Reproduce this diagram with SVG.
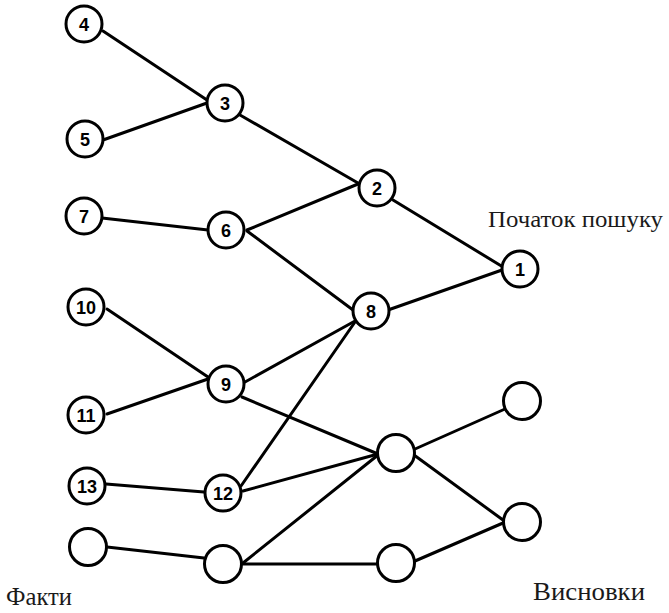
<svg xmlns="http://www.w3.org/2000/svg" width="669" height="613" viewBox="0 0 669 613">
<style>
.e line{stroke:#000;stroke-width:3;stroke-linecap:round}
.n circle{fill:#fff;stroke:#000;stroke-width:3}
.n text{font-family:"Liberation Sans",Arial,sans-serif;font-weight:bold;font-size:18px;text-anchor:middle;fill:#000}
.lbl{font-family:"Liberation Serif","Times New Roman",serif;fill:#1a1a1a}
</style>
<rect width="669" height="613" fill="#fff"/>
<g id="connectors" class="e">
<line x1="103" y1="31" x2="207" y2="100"/>
<line x1="103" y1="140" x2="207" y2="103"/>
<line x1="240" y1="115" x2="358" y2="183"/>
<line x1="247" y1="230" x2="358" y2="184"/>
<line x1="102" y1="218" x2="208" y2="230"/>
<line x1="247" y1="231" x2="353" y2="310"/>
<line x1="393" y1="200" x2="503" y2="267"/>
<line x1="388" y1="310" x2="502" y2="270"/>
<line x1="107" y1="309" x2="208" y2="377"/>
<line x1="107" y1="414" x2="208" y2="379"/>
<line x1="245" y1="382" x2="355" y2="321"/>
<line x1="242" y1="397" x2="378" y2="454"/>
<line x1="241" y1="486" x2="355" y2="322"/>
<line x1="243" y1="491" x2="378" y2="454"/>
<line x1="106" y1="484" x2="204" y2="492"/>
<line x1="107" y1="547" x2="204" y2="558"/>
<line x1="243" y1="563" x2="378" y2="455"/>
<line x1="243" y1="564" x2="377" y2="564"/>
<line x1="415" y1="449" x2="505" y2="409"/>
<line x1="414" y1="455" x2="503" y2="520"/>
<line x1="415" y1="561" x2="503" y2="523"/>
</g>
<g id="n4" class="n"><circle cx="84" cy="24" r="18"/><text x="84" y="30.5">4</text></g>
<g id="n5" class="n"><circle cx="85" cy="139" r="18"/><text x="85" y="145.5">5</text></g>
<g id="n3" class="n"><circle cx="225" cy="103" r="18"/><text x="225" y="109.5">3</text></g>
<g id="n7" class="n"><circle cx="84" cy="216" r="18"/><text x="84" y="222.5">7</text></g>
<g id="n6" class="n"><circle cx="226" cy="230" r="18"/><text x="226" y="236.5">6</text></g>
<g id="n2" class="n"><circle cx="377" cy="188" r="18"/><text x="377" y="194.5">2</text></g>
<g id="n1" class="n"><circle cx="520" cy="269" r="18"/><text x="520" y="275.5">1</text></g>
<g id="n10" class="n"><circle cx="86" cy="307" r="18"/><text x="86" y="313.5">10</text></g>
<g id="n8" class="n"><circle cx="371" cy="311" r="18"/><text x="371" y="317.5">8</text></g>
<g id="n9" class="n"><circle cx="226" cy="384" r="18"/><text x="226" y="390.5">9</text></g>
<g id="n11" class="n"><circle cx="86" cy="415" r="18"/><text x="86" y="421.5">11</text></g>
<g id="n13" class="n"><circle cx="87" cy="486" r="18"/><text x="87" y="492.5">13</text></g>
<g id="n12" class="n"><circle cx="223" cy="493" r="18"/><text x="223" y="499.5">12</text></g>
<g id="e1" class="n"><circle cx="396" cy="453" r="18.5"/></g>
<g id="e2" class="n"><circle cx="522" cy="401" r="18.5"/></g>
<g id="e3" class="n"><circle cx="522" cy="522" r="18.5"/></g>
<g id="e4" class="n"><circle cx="88" cy="547" r="18.5"/></g>
<g id="e5" class="n"><circle cx="223" cy="564" r="18.5"/></g>
<g id="e6" class="n"><circle cx="396" cy="563" r="18.5"/></g>
<text class="lbl" x="488" y="227" font-size="23" textLength="175" lengthAdjust="spacingAndGlyphs">Початок пошуку</text>
<text class="lbl" x="6" y="605" font-size="25" textLength="66" lengthAdjust="spacingAndGlyphs">Факти</text>
<text class="lbl" x="533" y="600" font-size="25" textLength="112" lengthAdjust="spacingAndGlyphs">Висновки</text>
</svg>
